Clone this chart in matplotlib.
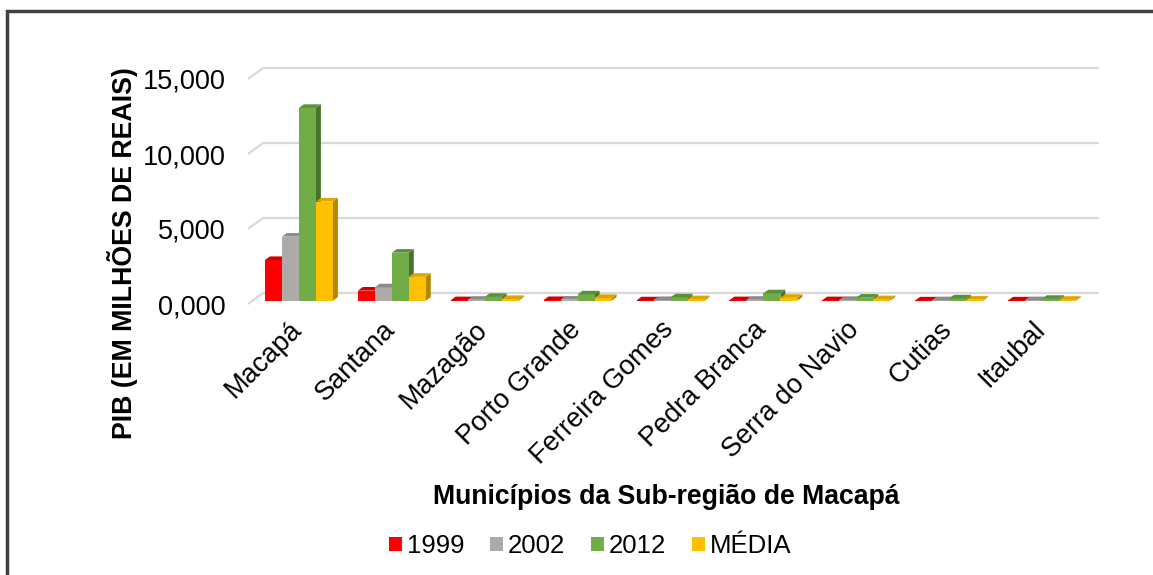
import matplotlib
matplotlib.use("Agg")
import matplotlib.pyplot as plt
from matplotlib.patches import Polygon, Rectangle

plt.rcParams["font.family"] = ["Liberation Sans", "DejaVu Sans"]

municipios = ["Macapá", "Santana", "Mazagão", "Porto Grande", "Ferreira Gomes",
              "Pedra Branca", "Serra do Navio", "Cutias", "Itaubal"]
series_names = ["1999", "2002", "2012", "MÉDIA"]
pib_1999 = [2710, 670, 30, 40, 20, 30, 30, 15, 15]
pib_2002 = [4270, 890, 60, 70, 40, 60, 50, 30, 30]
pib_2012 = [12850, 3200, 250, 420, 220, 490, 200, 150, 120]
pib_media = [6610, 1590, 110, 180, 95, 190, 95, 65, 55]
y_ticks = [0, 5000, 10000, 15000]
y_tick_labels = ["0,000", "5,000", "10,000", "15,000"]

front_colors = ["#FF0000", "#AEAAAA", "#70AD47", "#FFC000"]
top_colors = ["#D40000", "#8F8B8B", "#5A9138", "#DDA600"]
side_colors = ["#A80000", "#7A7676", "#47722C", "#B38600"]

W, H = 1153, 575
fig = plt.figure(figsize=(W / 100, H / 100), dpi=100)

# front plane of the 3D box in pixels
x0_px, x1_px = 248, 1084
y0_px, y1_px = 304, 79
ax = fig.add_axes([x0_px / W, 1 - y0_px / H, (x1_px - x0_px) / W, (y0_px - y1_px) / H])
n = len(municipios)
ax.set_xlim(0, n)
ax.set_ylim(0, 15000)
for s in ax.spines.values():
    s.set_visible(False)

# full depth offset of the box in data units
px_x = n / (x1_px - x0_px)
px_y = 15000 / (y0_px - y1_px)
DX = 15 * px_x
DY = 11 * px_y

# gridlines on side wall + back wall
for v in y_ticks:
    ax.plot([0, DX, n + DX], [v, v + DY, v + DY], color="#D9D9D9", lw=1.6,
            clip_on=False, zorder=1, solid_capstyle="butt")

ax.set_yticks(y_ticks)
ax.set_yticklabels(y_tick_labels, fontsize=19.5)
ax.tick_params(axis="y", length=0, pad=16)

ax.set_xticks([i + 0.44 for i in range(n)])
ax.set_xticklabels(municipios, fontsize=19.5, rotation=45, ha="right",
                   rotation_mode="anchor")
ax.tick_params(axis="x", length=0, pad=9)

bar_w = 17 * px_x
d_front, d_back = 0.3, 0.63
data = [pib_1999, pib_2002, pib_2012, pib_media]

for i in range(n):
    for j, vals in enumerate(data):
        v = vals[i]
        xl = i + 0.5 - 2 * bar_w + j * bar_w + d_front * DX
        yb = d_front * DY
        xr = xl + bar_w
        yt = yb + v
        ddx = (d_back - d_front) * DX
        ddy = (d_back - d_front) * DY
        ax.add_patch(Polygon([(xr, yb), (xr + ddx, yb + ddy), (xr + ddx, yt + ddy), (xr, yt)],
                             closed=True, fc=side_colors[j], ec="none", clip_on=False, zorder=3))
        ax.add_patch(Rectangle((xl, yb), bar_w, v, fc=front_colors[j], ec="none",
                               clip_on=False, zorder=3))
        ax.add_patch(Polygon([(xl, yt), (xr, yt), (xr + ddx, yt + ddy), (xl + ddx, yt + ddy)],
                             closed=True, fc=top_colors[j], ec="none", clip_on=False, zorder=3))

fig.text(122 / W, 1 - 253 / H, "PIB (EM MILHÕES DE REAIS)", rotation=90, fontsize=19.3,
         fontweight="bold", ha="center", va="center")
fig.text(666 / W, 1 - 497 / H, "Municípios da Sub-região de Macapá", fontsize=19.2,
         fontweight="bold", ha="center", va="center")

handles = [Rectangle((0, 0), 1, 1, fc=c, ec="none") for c in front_colors]
fig.legend(handles, series_names, loc="center", bbox_to_anchor=(590 / W, 1 - 546 / H),
           ncol=4, frameon=False, fontsize=18.5, handlelength=0.5, handleheight=0.5,
           handletextpad=0.2, columnspacing=1.0)

# chart border
fig.add_artist(Rectangle((7 / W, -0.1), 1.1, 1 - 11 / H + 0.1, transform=fig.transFigure,
                         fill=False, ec="#404040", lw=2.5))

fig.savefig("out.png", dpi=100)
